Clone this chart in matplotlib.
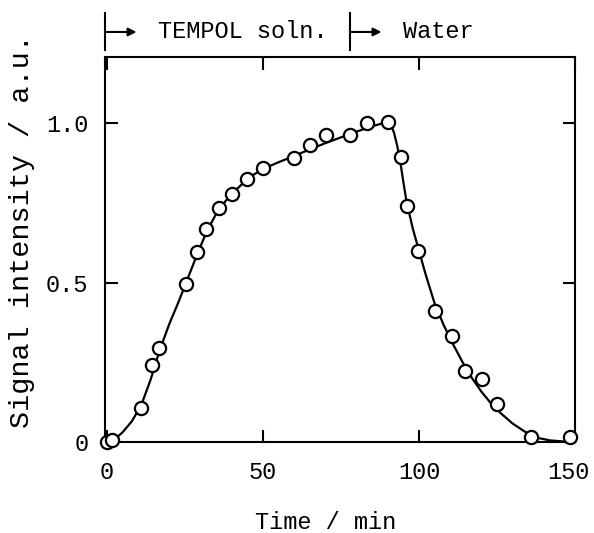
import matplotlib
matplotlib.use("Agg")
import matplotlib.pyplot as plt
import matplotlib.transforms as mtransforms

# measured points (time / min, signal / a.u.)
time_pts = [0, 1.8, 10.9, 14.5, 16.6, 25.5, 28.9, 31.8, 35.8, 40.0, 44.8, 49.9,
            60.0, 65.1, 70.2, 77.9, 83.2, 90.0, 94.3, 96.1, 99.8, 105.2, 110.5,
            114.7, 120.3, 124.9, 136.0, 148.4]
signal_pts = [0.0, 0.005, 0.107, 0.24, 0.294, 0.494, 0.595, 0.667, 0.735, 0.779,
              0.824, 0.858, 0.889, 0.931, 0.962, 0.962, 1.0, 1.003, 0.892, 0.74,
              0.60, 0.41, 0.331, 0.223, 0.197, 0.119, 0.017, 0.017]

# fitted curve
curve_t = [1.5, 5, 8, 11, 14, 17, 20, 23, 26, 29, 32, 35, 38, 41, 44, 47, 50,
           55, 60, 65, 70, 75, 80, 85, 88, 90, 91, 92, 93, 94, 95, 96, 98, 100,
           102, 105, 108, 111, 114, 117, 120, 123, 126, 130, 134, 138, 142, 146, 150]
curve_s = [0.0, 0.03, 0.065, 0.115, 0.195, 0.29, 0.37, 0.44, 0.515, 0.59, 0.66,
           0.715, 0.755, 0.787, 0.815, 0.838, 0.856, 0.877, 0.897, 0.917, 0.937,
           0.955, 0.973, 0.99, 0.998, 1.002, 0.995, 0.97, 0.93, 0.88, 0.815, 0.755,
           0.67, 0.60, 0.53, 0.435, 0.365, 0.305, 0.25, 0.2, 0.158, 0.122, 0.092,
           0.058, 0.032, 0.013, 0.005, 0.002, 0.0]

x_ticks = [0, 50, 100, 150]
y_ticks = [0, 0.5, 1.0]
y_tick_labels = ["0", "0.5", "1.0"]

plt.rcParams['font.family'] = ['Liberation Mono', 'DejaVu Sans Mono']

fig = plt.figure(figsize=(5.94, 5.33), dpi=100)
ax = fig.add_axes([105 / 594, 1 - 442 / 533, 470 / 594, 385 / 533])

ax.plot(curve_t, curve_s, color='black', lw=1.6, zorder=2)
ax.plot(time_pts, signal_pts, 'o', ms=9.5, mfc='white', mec='black', mew=1.6,
        clip_on=False, zorder=3)

ax.set_xlim(-0.6, 150)
ax.set_ylim(0, 1.207)
ax.set_xticks(x_ticks)
ax.set_yticks(y_ticks)
ax.set_yticklabels(y_tick_labels)
ax.tick_params(direction='in', length=9, width=1.5, labelsize=17, pad=12,
               top=True, right=True)
ax.tick_params(axis='x', pad=14)
for sp in ax.spines.values():
    sp.set_linewidth(1.5)

# the last x label sits a little left of its tick, as in the original
fig.canvas.draw()
last_lbl = ax.get_xticklabels()[-1]
last_lbl.set_transform(last_lbl.get_transform() +
                       mtransforms.ScaledTranslation(-5 / 72, 0, fig.dpi_scale_trans))

ax.set_xlabel("Time / min", fontsize=17, va='center')
ax.xaxis.set_label_coords(0.47, -0.21)
ax.set_ylabel("Signal intensity / a.u.", fontsize=20.5, va='center')
ax.yaxis.set_label_coords(-0.177, 0.548)

# top annotation: solution switching
trans = ax.get_xaxis_transform()
for xb in [-0.6, 77.9]:
    ax.plot([xb, xb], [1.018, 1.114], color='black', lw=1.5,
            transform=trans, clip_on=False)
arrow_style = dict(arrowstyle='-|>', color='black', lw=1.5, mutation_scale=12,
                   shrinkA=0, shrinkB=0)
ax.annotate("", xy=(9.5, 1.065), xytext=(-0.6, 1.065), xycoords=trans,
            textcoords=trans, arrowprops=arrow_style, annotation_clip=False)
ax.annotate("", xy=(88, 1.065), xytext=(77.9, 1.065), xycoords=trans,
            textcoords=trans, arrowprops=arrow_style, annotation_clip=False)
ax.text(16.3, 1.065, "TEMPOL soln.", transform=trans, fontsize=17,
        ha='left', va='center')
ax.text(95, 1.065, "Water", transform=trans, fontsize=17, ha='left', va='center')

fig.savefig("out.png", dpi=100)
